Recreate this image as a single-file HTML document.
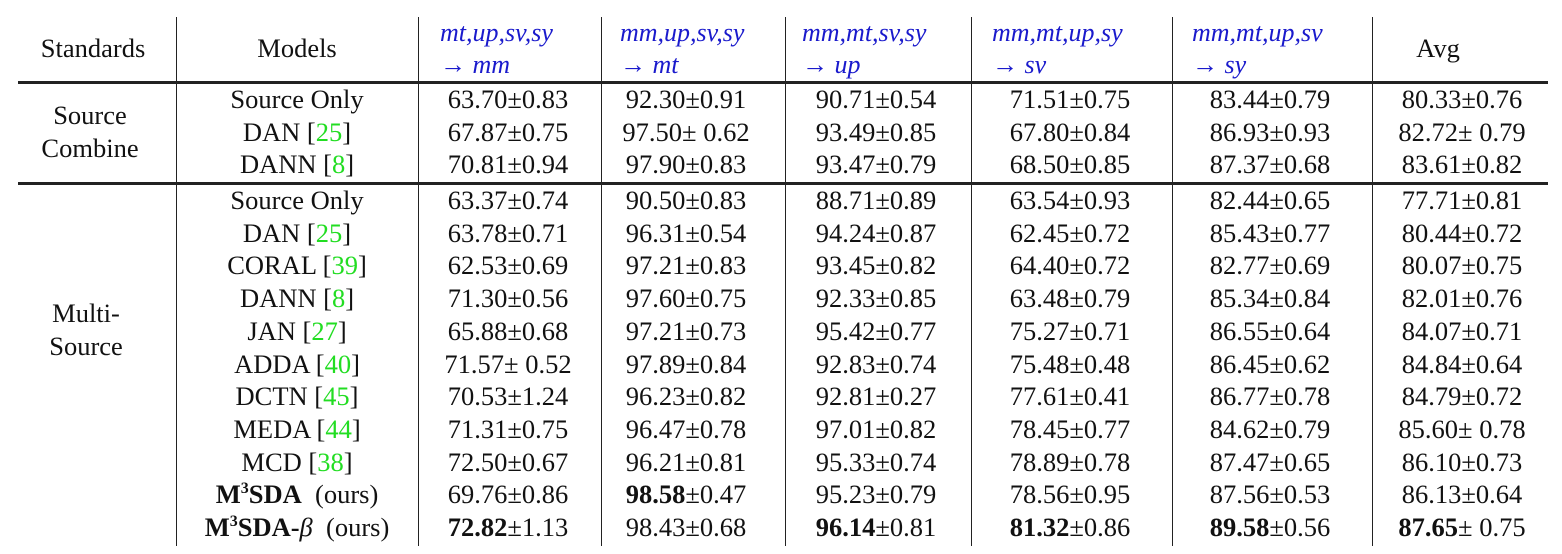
<!DOCTYPE html>
<html><head><meta charset="utf-8"><style>
body{margin:0;width:1562px;height:554px;background:#fff;overflow:hidden;font-family:"Liberation Serif",serif;color:#111}
.t{position:absolute;font-size:26.5px;white-space:nowrap;transform:translate(-50%,-50%);line-height:1}
.h{position:absolute;font-size:26px;font-style:italic;color:#1a1acc;white-space:nowrap;line-height:1}
.vl{position:absolute;top:17px;height:529px;width:1.3px;background:#222}
.hl{position:absolute;left:18px;width:1530px;height:2.5px;background:#222}
.g{color:#22dd22}
</style></head><body>
<div>
<div class="hl" style="top:81px"></div>
<div class="hl" style="top:182px"></div>
<div class="vl" style="left:176px"></div>
<div class="vl" style="left:418px"></div>
<div class="vl" style="left:601px"></div>
<div class="vl" style="left:785px"></div>
<div class="vl" style="left:971px"></div>
<div class="vl" style="left:1172px"></div>
<div class="vl" style="left:1372px"></div>
<div class="t" style="left:93px;top:48px">Standards</div>
<div class="t" style="left:297px;top:48px">Models</div>
<div class="t" style="left:1438px;top:48px">Avg</div>
<div class="h" style="left:440px;top:20px">mt,up,sv,sy<br><span style="display:inline-block;margin-top:6px">→ mm</span></div>
<div class="h" style="left:620px;top:20px">mm,up,sv,sy<br><span style="display:inline-block;margin-top:6px">→ mt</span></div>
<div class="h" style="left:802px;top:20px">mm,mt,sv,sy<br><span style="display:inline-block;margin-top:6px">→ up</span></div>
<div class="h" style="left:992px;top:20px">mm,mt,up,sy<br><span style="display:inline-block;margin-top:6px">→ sv</span></div>
<div class="h" style="left:1192px;top:20px">mm,mt,up,sv<br><span style="display:inline-block;margin-top:6px">→ sy</span></div>
<div class="t" style="left:90px;top:132px;text-align:center;line-height:33px">Source<br>Combine</div>
<div class="t" style="left:86px;top:330px;text-align:center;line-height:33px">Multi-<br>Source</div>
<div id="rows"></div>
</div>
<script>
const models=["Source Only","DAN [<span class=g>25</span>]","DANN [<span class=g>8</span>]","Source Only","DAN [<span class=g>25</span>]","CORAL [<span class=g>39</span>]","DANN [<span class=g>8</span>]","JAN [<span class=g>27</span>]","ADDA [<span class=g>40</span>]","DCTN [<span class=g>45</span>]","MEDA [<span class=g>44</span>]","MCD [<span class=g>38</span>]","<b>M<sup style='font-size:16px'>3</sup>SDA</b>&nbsp; (ours)","<b>M<sup style='font-size:16px'>3</sup>SDA-</b><i>β</i>&nbsp; (ours)"];
const vals=[
["63.70±0.83","92.30±0.91","90.71±0.54","71.51±0.75","83.44±0.79","80.33±0.76"],
["67.87±0.75","97.50± 0.62","93.49±0.85","67.80±0.84","86.93±0.93","82.72± 0.79"],
["70.81±0.94","97.90±0.83","93.47±0.79","68.50±0.85","87.37±0.68","83.61±0.82"],
["63.37±0.74","90.50±0.83","88.71±0.89","63.54±0.93","82.44±0.65","77.71±0.81"],
["63.78±0.71","96.31±0.54","94.24±0.87","62.45±0.72","85.43±0.77","80.44±0.72"],
["62.53±0.69","97.21±0.83","93.45±0.82","64.40±0.72","82.77±0.69","80.07±0.75"],
["71.30±0.56","97.60±0.75","92.33±0.85","63.48±0.79","85.34±0.84","82.01±0.76"],
["65.88±0.68","97.21±0.73","95.42±0.77","75.27±0.71","86.55±0.64","84.07±0.71"],
["71.57± 0.52","97.89±0.84","92.83±0.74","75.48±0.48","86.45±0.62","84.84±0.64"],
["70.53±1.24","96.23±0.82","92.81±0.27","77.61±0.41","86.77±0.78","84.79±0.72"],
["71.31±0.75","96.47±0.78","97.01±0.82","78.45±0.77","84.62±0.79","85.60± 0.78"],
["72.50±0.67","96.21±0.81","95.33±0.74","78.89±0.78","87.47±0.65","86.10±0.73"],
["69.76±0.86","<b>98.58</b>±0.47","95.23±0.79","78.56±0.95","87.56±0.53","86.13±0.64"],
["<b>72.82</b>±1.13","98.43±0.68","<b>96.14</b>±0.81","<b>81.32</b>±0.86","<b>89.58</b>±0.56","<b>87.65</b>± 0.75"]];
const cx=[508,686,876,1070,1270,1462];
const root=document.getElementById('rows');
models.forEach((m,i)=>{
 const y=i<3?99+i*32.6:200+(i-3)*32.7;
 const d=document.createElement('div');d.className='t';d.style.left='297px';d.style.top=y+'px';d.innerHTML=m;
 
 
 root.appendChild(d);
 vals[i].forEach((v,j)=>{
  const c=document.createElement('div');c.className='t';c.style.left=cx[j]+'px';c.style.top=y+'px';c.innerHTML=v;
  
  
  root.appendChild(c);
 });
});
</script>
</body></html>
